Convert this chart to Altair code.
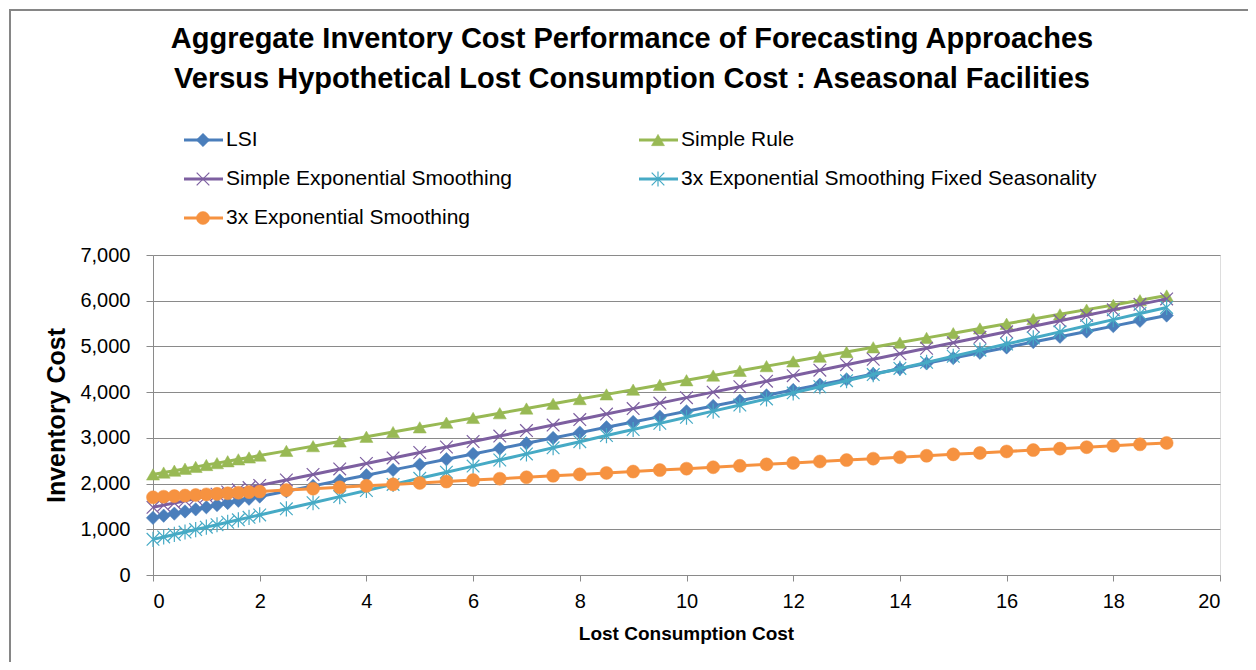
import altair as alt
import pandas as pd

# ---------------- data ----------------
x_vals = [0, 0.2, 0.4, 0.6, 0.8, 1.0, 1.2, 1.4, 1.6, 1.8, 2.0, 2.5, 3, 3.5, 4, 4.5, 5, 5.5,
          6, 6.5, 7, 7.5, 8, 8.5, 9, 9.5, 10, 10.5, 11, 11.5, 12, 12.5, 13, 13.5, 14, 14.5,
          15, 15.5, 16, 16.5, 17, 17.5, 18, 18.5, 19]

lsi = [1250, 1297, 1343, 1390, 1436, 1483, 1530, 1576, 1623, 1669, 1716, 1833, 1949, 2066,
       2182, 2299, 2415, 2532, 2648, 2765, 2881, 2998, 3114, 3231, 3347, 3464, 3580, 3697,
       3813, 3930, 4046, 4163, 4279, 4396, 4512, 4629, 4745, 4862, 4978, 5095, 5211, 5328,
       5444, 5561, 5677]

simple_rule = [2200, 2241, 2282, 2324, 2365, 2406, 2447, 2488, 2530, 2571, 2612, 2715, 2818,
               2921, 3024, 3127, 3230, 3333, 3436, 3539, 3642, 3745, 3848, 3951, 4054, 4157,
               4260, 4363, 4466, 4569, 4672, 4775, 4878, 4981, 5084, 5187, 5290, 5393, 5496,
               5599, 5702, 5805, 5908, 6011, 6114]

simple_exp = [1480, 1528, 1576, 1624, 1672, 1720, 1768, 1816, 1864, 1912, 1960, 2080, 2200,
              2320, 2440, 2560, 2680, 2800, 2920, 3040, 3160, 3280, 3400, 3520, 3640, 3760,
              3880, 4000, 4120, 4240, 4360, 4480, 4600, 4720, 4840, 4960, 5080, 5200, 5320,
              5440, 5560, 5680, 5800, 5920, 6040]

triple_exp_fixed = [780, 833, 887, 940, 994, 1047, 1100, 1154, 1207, 1261, 1314, 1448, 1581,
                    1715, 1848, 1982, 2115, 2249, 2382, 2516, 2649, 2783, 2916, 3050, 3183,
                    3317, 3450, 3584, 3717, 3851, 3984, 4118, 4251, 4385, 4518, 4652, 4785,
                    4919, 5052, 5186, 5319, 5453, 5586, 5720, 5853]

triple_exp = [1700, 1713, 1725, 1738, 1750, 1763, 1775, 1788, 1800, 1813, 1825, 1857, 1888,
              1919, 1950, 1982, 2013, 2044, 2076, 2107, 2138, 2170, 2201, 2232, 2263, 2295,
              2326, 2357, 2389, 2420, 2451, 2483, 2514, 2545, 2576, 2608, 2639, 2670, 2702,
              2733, 2764, 2796, 2827, 2858, 2889]

series_names = ["LSI", "Simple Rule", "Simple Exponential Smoothing",
                "3x Exponential Smoothing Fixed Seasonality", "3x Exponential Smoothing"]
series_values = [lsi, simple_rule, simple_exp, triple_exp_fixed, triple_exp]

title_lines = ["Aggregate Inventory Cost Performance of Forecasting Approaches",
               "Versus Hypothetical Lost Consumption Cost : Aseasonal Facilities"]
x_title = "Lost Consumption Cost"
y_title = "Inventory Cost"

# ---------------- styling ----------------
FONT = "Liberation Sans"
colors = ["#4A7EBB", "#98B954", "#7D5FA0", "#46AAC5", "#F69240"]
X_PATH = "M-1,-1L1,1M-1,1L1,-1"
AST_PATH = "M-1,-1L1,1M-1,1L1,-1M0,-1.2L0,1.2"
shapes = ["diamond", "triangle-up", X_PATH, AST_PATH, "circle"]
filled = [True, True, False, False, True]
sizes = [180, 170, 160, 160, 170]

W, H = 1067, 320
GRID = "#8a8a8a"

x_enc = alt.X("x:Q", scale=alt.Scale(domain=[0, 20], nice=False),
              axis=alt.Axis(values=list(range(0, 21, 2)), grid=False, tickSize=6,
                            tickColor=GRID, domainColor=GRID, labelFont=FONT,
                            labelFontSize=20, labelColor="#000", labelPadding=10,
                            title=x_title, titleFont=FONT, titleFontSize=19,
                            titleFontWeight="bold", titleColor="#000",
                            titleX=533, titleY=58, titleBaseline="middle"))
y_enc = alt.Y("y:Q", scale=alt.Scale(domain=[0, 7000], nice=False),
              axis=alt.Axis(values=list(range(0, 7001, 1000)), format=",d", grid=True,
                            gridColor=GRID, gridWidth=1, tickSize=7, tickColor=GRID,
                            domainColor=GRID, labelFont=FONT, labelFontSize=20,
                            labelColor="#000", labelPadding=16,
                            title=y_title, titleFont=FONT, titleFontSize=25,
                            titleFontWeight="bold", titleColor="#000",
                            titleX=-97, titleY=160, titleAngle=270,
                            titleBaseline="middle"))

layers = []

# outer chart border
one = pd.DataFrame({"k": [0]})
layers.append(alt.Chart(one).mark_rect(filled=False, stroke="#868686", strokeWidth=2).encode(
    x=alt.value(-143), x2=alt.value(1200), y=alt.value(-245), y2=alt.value(500)))

# data series
for i, (name, vals) in enumerate(zip(series_names, series_values)):
    df = pd.DataFrame({"x": x_vals, "y": vals, "series": name})
    base = alt.Chart(df)
    layers.append(base.mark_line(color=colors[i], strokeWidth=3).encode(x=x_enc, y=y_enc))
    if filled[i]:
        pt = base.mark_point(shape=shapes[i], size=sizes[i], filled=True,
                             fill=colors[i], stroke=colors[i], strokeWidth=0.5, opacity=1)
    else:
        pt = base.mark_point(shape=shapes[i], size=sizes[i], filled=False,
                             stroke=colors[i], strokeWidth=1.2, opacity=1)
    layers.append(pt.encode(x=x_enc, y=y_enc))

# title
for j, line in enumerate(title_lines):
    tdf = pd.DataFrame({"t": [line]})
    layers.append(alt.Chart(tdf).mark_text(font=FONT, fontSize=29, fontWeight="bold",
                                           color="#000", align="center",
                                           baseline="alphabetic").encode(
        text="t:N", x=alt.value(479), y=alt.value(-207 + 40 * j)))

# legend
col_x = [31, 486]
row_y = [-115, -76, -37]
for i, name in enumerate(series_names):
    cx = col_x[i % 2]
    cy = row_y[i // 2]
    ldf = pd.DataFrame({"name": [name]})
    lb = alt.Chart(ldf)
    layers.append(lb.mark_rule(color=colors[i], strokeWidth=3).encode(
        x=alt.value(cx), x2=alt.value(cx + 39), y=alt.value(cy)))
    if filled[i]:
        lp = lb.mark_point(shape=shapes[i], size=sizes[i], filled=True, fill=colors[i],
                           stroke=colors[i], strokeWidth=0.5, opacity=1)
    else:
        lp = lb.mark_point(shape=shapes[i], size=sizes[i], filled=False, stroke=colors[i],
                           strokeWidth=1.2, opacity=1)
    layers.append(lp.encode(x=alt.value(cx + 19), y=alt.value(cy)))
    layers.append(lb.mark_text(font=FONT, fontSize=21, color="#000", align="left",
                               baseline="middle").encode(
        text="name:N", x=alt.value(cx + 42), y=alt.value(cy)))

chart = alt.layer(*layers).properties(
    width=W, height=H,
    autosize=alt.AutoSizeParams(type="none"),
    padding={"left": 145, "top": 247, "right": 28, "bottom": 87},
).configure_view(stroke=None).configure(background="white")

chart.save("out.html", embed_options={"renderer": "svg", "actions": False})
